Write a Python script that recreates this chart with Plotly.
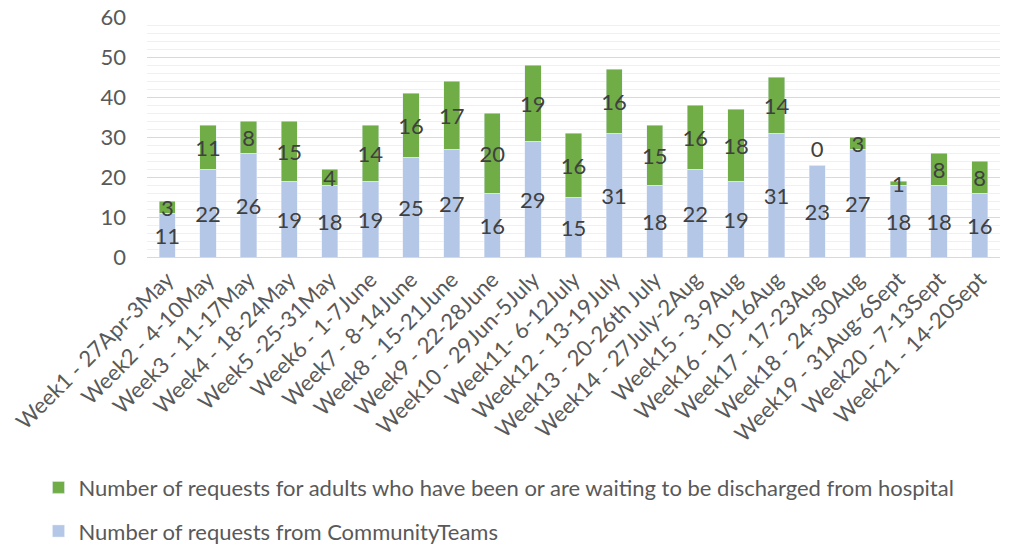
import plotly.graph_objects as go

weeks = [
    "Week1 - 27Apr-3May", "Week2 - 4-10May", "Week3 - 11-17May", "Week4 - 18-24May",
    "Week5 -25-31May", "Week6 - 1-7June", "Week7 - 8-14June", "Week8 - 15-21June",
    "Week9 - 22-28June", "Week10 - 29Jun-5July", "Week11- 6-12July", "Week12 - 13-19July",
    "Week13 - 20-26th July", "Week14 - 27July-2Aug", "Week15 - 3-9Aug", "Week16 - 10-16Aug",
    "Week17 - 17-23Aug", "Week18 - 24-30Aug", "Week19 - 31Aug-6Sept", "Week20 - 7-13Sept",
    "Week21 - 14-20Sept",
]
community = [11, 22, 26, 19, 18, 19, 25, 27, 16, 29, 15, 31, 18, 22, 19, 31, 23, 27, 18, 18, 16]
hospital = [3, 11, 8, 15, 4, 14, 16, 17, 20, 19, 16, 16, 15, 16, 18, 14, 0, 3, 1, 8, 8]

name_community = "Number of requests from CommunityTeams"
name_hospital = "Number of requests for adults who have been or are waiting to be discharged from hospital"

FONT = "Lato"
TXT = "#404040"
SIZE = 22

# an empty segment still gets its label, sitting just above the stack
hospital_pos = ["outside" if v == 0 else "inside" for v in hospital]

fig = go.Figure()
fig.add_trace(go.Bar(
    x=weeks, y=community, name=name_community, marker_color="#b4c7e7",
    text=community, textposition="inside", insidetextanchor="middle", textangle=0,
    textfont=dict(color=TXT, size=SIZE, family=FONT),
    legendgroup="b", legendrank=2,
))
fig.add_trace(go.Bar(
    x=weeks, y=hospital, name=name_hospital, marker_color="#70ad47",
    text=hospital, textposition=hospital_pos, insidetextanchor="middle", textangle=0,
    textfont=dict(color=TXT, size=SIZE, family=FONT),
    outsidetextfont=dict(color=TXT, size=SIZE, family=FONT),
    legendgroup="a", legendrank=1, cliponaxis=False,
))

fig.update_layout(
    barmode="stack", bargap=0.6,
    width=1013, height=547,
    margin=dict(l=147, r=13, t=17, b=290, autoexpand=False),
    plot_bgcolor="white", paper_bgcolor="white",
    font=dict(family=FONT, size=SIZE, color="#595959"),
    uniformtext=dict(minsize=SIZE, mode="show"),
    legend=dict(
        xref="container", yref="container", x=0.038, y=0.147,
        xanchor="left", yanchor="top",
        traceorder="grouped", tracegroupgap=12,
        font=dict(size=SIZE, color="#595959", family=FONT),
        itemwidth=30,
    ),
    xaxis=dict(tickangle=-45, showline=True, linecolor="#d9d9d9", linewidth=1,
               ticks="", showgrid=False, automargin=False,
               tickfont=dict(size=SIZE)),
    yaxis=dict(range=[0, 60], dtick=10, gridcolor="#d9d9d9", gridwidth=1,
               zeroline=False, ticks="", automargin=False, ticklabelstandoff=20,
               tickfont=dict(size=SIZE),
               minor=dict(dtick=2, showgrid=True, gridcolor="#f0f0f0", gridwidth=1)),
)

fig.write_html("out.html")
